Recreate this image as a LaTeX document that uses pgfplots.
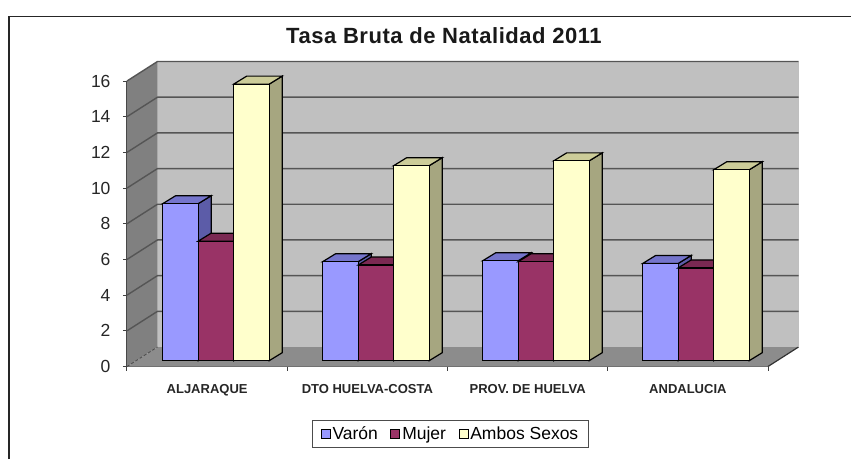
\documentclass[border=0pt]{standalone}
\usepackage{fontspec}
\setmainfont{Liberation Sans}
\newfontfamily\titlefont[LetterSpace=2.5]{Liberation Sans}
\usepackage{pgfplots}
\pgfplotsset{compat=1.18}
\definecolor{wall}{HTML}{C0C0C0}
\definecolor{sidewall}{HTML}{808080}
\definecolor{floorc}{HTML}{8C8C8C}
\definecolor{gridc}{HTML}{555555}
\definecolor{vf}{HTML}{9999FF}\definecolor{vt}{HTML}{7575CC}\definecolor{vs}{HTML}{5C5CA8}
\definecolor{mf}{HTML}{993366}\definecolor{mt}{HTML}{7A2952}\definecolor{ms}{HTML}{5C1F3D}
\definecolor{af}{HTML}{FFFFCC}\definecolor{at}{HTML}{CCCC99}\definecolor{as}{HTML}{A6A680}
% wall depth in data units
\newcommand\wdx{0.1903}
\newcommand\wdy{1.093}
% one 3D bar: group, slot, value, front, top, side colour
\newcommand\drawbar[6]{%
  \pgfmathsetmacro\xa{(35.7+160*#1+35.5*#2)/160.25}%
  \pgfmathsetmacro\xb{\xa+35.5/160.25}%
  \pgfmathsetmacro\xc{\xa+13/160.25}%
  \pgfmathsetmacro\xd{\xb+13/160.25}%
  \pgfmathsetmacro\yb{0.325}%
  \pgfmathsetmacro\yt{#3+\yb}%
  \pgfmathsetmacro\ybb{\yb+0.448}%
  \pgfmathsetmacro\ytt{\yt+0.448}%
  \addplot[forget plot,draw=black,line width=1.2pt,fill=#6,mark=none] coordinates {(\xb,\yb)(\xd,\ybb)(\xd,\ytt)(\xb,\yt)} -- cycle;
  \addplot[forget plot,draw=black,line width=1.2pt,fill=#5,mark=none] coordinates {(\xa,\yt)(\xc,\ytt)(\xd,\ytt)(\xb,\yt)} -- cycle;
  \addplot[forget plot,draw=black,line width=1.2pt,fill=#4,mark=none] coordinates {(\xa,\yb)(\xb,\yb)(\xb,\yt)(\xa,\yt)} -- cycle;
}
\newcommand\drawgroup[4]{%
  \drawbar{#1}{0}{#2}{vf}{vt}{vs}%
  \drawbar{#1}{1}{#3}{mf}{mt}{ms}%
  \drawbar{#1}{2}{#4}{af}{at}{as}%
}
\begin{document}
\begin{tikzpicture}
\useasboundingbox (-127pt,-92.5pt) rectangle (724pt,366.5pt);
\fill[white] (-127pt,-92.5pt) rectangle (724pt,366.5pt);
\draw[line width=1.8pt,black!85] (-118pt,-92.5pt) -- (-118pt,350pt) -- (724pt,350pt);
\begin{axis}[
  scale only axis, width=641pt, height=285.5pt,
  xmin=0, xmax=4, ymin=0, ymax=16,
  clip=false,
  axis x line=bottom, axis y line=left,
  axis line style={-,line width=1.2pt,draw=black!75},
  tick align=outside, major tick length=4pt,
  tick style={line width=1pt,draw=black!75},
  xtick={0,1,2,3,4}, xticklabels={},
  ytick={0,2,...,16},
  /pgf/number format/assume math mode=true,
  yticklabel style={font=\fontsize{17.5}{17.5}\selectfont,text=black!85,xshift=-9pt},
  extra x ticks={0.5,1.5,2.5,3.5},
  extra x tick labels={ALJARAQUE,DTO HUELVA-COSTA,PROV. DE HUELVA,ANDALUCIA},
  extra x tick style={major tick length=0pt,
     tick label style={font=\fontsize{13}{13}\selectfont\bfseries,text=black!85,yshift=-14.5pt}},
  title={Tasa Bruta de Natalidad 2011},
  title style={at={(0.4945,1.1366)},anchor=center,font=\fontsize{22}{22}\selectfont\titlefont\bfseries,text=black!90},
  legend style={at={(0.5047,-0.2364)},anchor=center,draw=black!70,line width=0.8pt,
     font=\fontsize{17.5}{17.5}\selectfont,legend columns=3,
     /tikz/every even column/.append style={column sep=10.5pt},
     inner xsep=8pt,inner ysep=4pt},
  legend image code/.code={\draw[#1,draw=black,line width=0.8pt] (0pt,-4pt) rectangle (9pt,5pt);},
]
% walls and floor
\addplot[forget plot,draw=none,fill=wall,mark=none] coordinates {(\wdx,\wdy)(4+\wdx,\wdy)(4+\wdx,16+\wdy)(\wdx,16+\wdy)} -- cycle;
\addplot[forget plot,draw=none,fill=sidewall,mark=none] coordinates {(0,0)(\wdx,\wdy)(\wdx,16+\wdy)(0,16)} -- cycle;
\addplot[forget plot,draw=none,fill=floorc,mark=none] coordinates {(0,0)(\wdx,\wdy)(4+\wdx,\wdy)(4,0)} -- cycle;
\addplot[forget plot,draw=black!80,line width=1.2pt,mark=none] coordinates {(4,0)(4+\wdx,\wdy)};
\addplot[forget plot,draw=black!25,line width=0.8pt,mark=none] coordinates {(4+\wdx,\wdy)(4+\wdx,16+\wdy)};
\addplot[forget plot,draw=black!70,line width=0.8pt,densely dashed,mark=none] coordinates {(0,0)(\wdx,\wdy)};
% gridlines
\pgfplotsinvokeforeach{2,4,...,16}{
  \addplot[forget plot,draw=gridc,line width=1.4pt,mark=none] coordinates {(0,#1)(\wdx,#1+\wdy)(4+\wdx,#1+\wdy)};
}
% bars: Varón, Mujer, Ambos Sexos
\drawgroup{0}{8.8}{6.7}{15.5}
\drawgroup{1}{5.55}{5.36}{10.93}
\drawgroup{2}{5.6}{5.55}{11.2}
\drawgroup{3}{5.45}{5.2}{10.7}
\addlegendimage{fill=vf}\addlegendentry{Varón}
\addlegendimage{fill=mf}\addlegendentry{Mujer}
\addlegendimage{fill=af}\addlegendentry{Ambos Sexos}
\end{axis}
\end{tikzpicture}
\end{document}
